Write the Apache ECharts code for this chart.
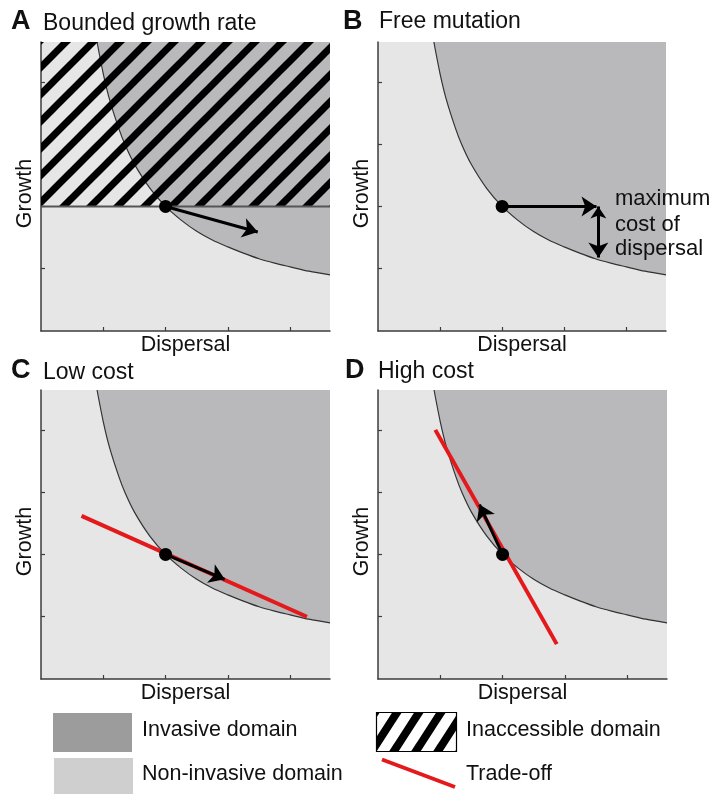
<!DOCTYPE html>
<html>
<head>
<meta charset="utf-8">
<script src="https://cdn.jsdelivr.net/npm/echarts@6/dist/echarts.min.js"></script>
<style>html,body{margin:0;padding:0;background:#fff;}#c{width:715px;height:794px;}</style>
</head>
<body>
<div id="c"></div>
<script>
// ---- data ----
const panelTitles = ['Bounded growth rate', 'Free mutation', 'Low cost', 'High cost'];
const panelLetters = ['A', 'B', 'C', 'D'];
const xAxisName = 'Dispersal';
const yAxisName = 'Growth';
const axisMax = 4.64;
const tickValues = [1, 2, 3, 4];
// invasion boundary (dispersal, growth)
const curveX = [0.9, 1.0, 1.1, 1.25, 1.35, 1.5, 1.75, 2.0, 2.25, 2.5, 2.75, 3.0, 3.25, 3.5, 3.75, 4.0, 4.3, 4.64];
const curveY = [4.64, 4.13, 3.72, 3.25, 2.99, 2.68, 2.29, 2.0, 1.78, 1.60, 1.46, 1.35, 1.25, 1.16, 1.09, 1.03, 0.96, 0.90];
const resident = [2, 2];
const growthBound = 2;                       // panel A
const arrowA = [[2, 2], [3.48, 1.59]];
const arrowBH = [[2, 2], [3.52, 2]];
const arrowBV = [[3.55, 2], [3.55, 1.18]];
const tradeoffLow = [[0.65, 2.62], [4.27, 1.0]];
const arrowC = [[2, 2], [2.95, 1.6]];
const tradeoffHigh = [[0.92, 4.0], [2.87, 0.56]];
const arrowD = [[2, 2], [1.63, 2.8]];
const costLabel = ['maximum', 'cost of', 'dispersal'];
const legendLabels = ['Invasive domain', 'Non-invasive domain', 'Inaccessible domain', 'Trade-off'];

// ---- styles ----
const FONT = 'Liberation Sans, Arial, Helvetica, sans-serif';
const DARK = '#b9b9bc', LIGHT = '#e6e6e6', RED = '#e3191c';

function hatch(w, h, lw) {
  const c = document.createElement('canvas');
  c.width = w; c.height = h;
  const g = c.getContext('2d');
  g.strokeStyle = '#000'; g.lineWidth = lw; g.lineCap = 'square';
  for (let k = -1; k <= 1; k++) {
    g.beginPath(); g.moveTo(k * w, h); g.lineTo(k * w + w, 0); g.stroke();
  }
  return c;
}
const hatchPanel = hatch(27, 27, 7);
const hatchLegend = hatch(22, 34, 8);

const grids = [
  {left: 41, top: 42, width: 289, height: 289},
  {left: 378, top: 42, width: 288, height: 289},
  {left: 41, top: 390, width: 289, height: 289},
  {left: 378, top: 390, width: 289, height: 289}
];

const chart = echarts.init(document.getElementById('c'), null, {renderer: 'canvas'});
const axisLine = {show: true, lineStyle: {color: '#3c3c3c', width: 1.5}};
const axisTick = {show: true, inside: true, length: 4, customValues: tickValues,
  lineStyle: {color: '#3c3c3c', width: 1.2}};

const xAxes = grids.map((g, i) => ({
  gridIndex: i, type: 'value', min: 0, max: axisMax, interval: 1,
  axisLine, axisTick, axisLabel: {show: false}, splitLine: {show: false},
  name: xAxisName, nameLocation: 'middle', nameGap: 3,
  nameTextStyle: {fontSize: 21.5, color: '#111', fontFamily: FONT}
}));
const yAxes = grids.map((g, i) => ({
  gridIndex: i, type: 'value', min: 0, max: axisMax, interval: 1,
  axisLine, axisTick, axisLabel: {show: false}, splitLine: {show: false},
  name: yAxisName, nameLocation: 'middle', nameGap: 5, nameRotate: 90,
  nameTextStyle: {fontSize: 21.5, color: '#111', fontFamily: FONT, padding: [0, 14, 0, 0]}
}));

const curveData = curveX.map((x, k) => [x, curveY[k]]);
const series = [];
const arrow = (i, coords, both) => ({
  type: 'lines', coordinateSystem: 'cartesian2d', xAxisIndex: i, yAxisIndex: i,
  data: [{coords}], symbol: both ? ['arrow', 'arrow'] : ['none', 'arrow'], symbolSize: [12, 15],
  lineStyle: {color: '#000', width: 3, opacity: 1}, silent: true, z: 8
});
for (let i = 0; i < 4; i++) {
  series.push({
    type: 'line', xAxisIndex: i, yAxisIndex: i, data: curveData,
    smooth: 0.3, showSymbol: false, silent: true,
    lineStyle: {color: '#333', width: 1.2},
    areaStyle: {origin: 'end', color: DARK, opacity: 1}, z: 2
  });
}
// Panel A: bound on growth, hatched inaccessible domain above it
series.push({
  type: 'line', xAxisIndex: 0, yAxisIndex: 0,
  data: [[0, growthBound], [axisMax, growthBound]], showSymbol: false, silent: true,
  lineStyle: {color: '#555', width: 2}, z: 5,
  areaStyle: {origin: 'end', color: {image: hatchPanel, repeat: 'repeat'}, opacity: 1}
});
series.push(arrow(0, arrowA));
series.push(arrow(1, arrowBH));
series.push(arrow(1, arrowBV, true));
series.push({type: 'line', xAxisIndex: 2, yAxisIndex: 2, data: tradeoffLow, showSymbol: false,
  silent: true, lineStyle: {color: RED, width: 4}, z: 6});
series.push(arrow(2, arrowC));
series.push({type: 'line', xAxisIndex: 3, yAxisIndex: 3, data: tradeoffHigh, showSymbol: false,
  silent: true, lineStyle: {color: RED, width: 4}, z: 6});
series.push(arrow(3, arrowD));
for (let i = 0; i < 4; i++) {
  series.push({type: 'scatter', xAxisIndex: i, yAxisIndex: i, data: [resident],
    symbolSize: 13, itemStyle: {color: '#000', opacity: 1}, silent: true, z: 10});
}

const txt = (x, y, text, size, weight) => ({
  type: 'text', x, y, silent: true, z: 100,
  style: {text, fontSize: size, fontWeight: weight || 'normal', fill: '#111',
    fontFamily: FONT, align: 'left', verticalAlign: 'middle'}
});
const graphic = [
  txt(11, 22, panelLetters[0], 27, 'bold'), txt(43, 24, panelTitles[0], 23),
  txt(343, 22, panelLetters[1], 27, 'bold'), txt(379, 22, panelTitles[1], 23),
  txt(11, 371, panelLetters[2], 27, 'bold'), txt(43, 373, panelTitles[2], 23),
  txt(345, 371, panelLetters[3], 27, 'bold'), txt(378, 372, panelTitles[3], 23),
  txt(615, 199, costLabel[0], 22), txt(615, 224.5, costLabel[1], 22), txt(615, 248.5, costLabel[2], 22),
  // legend
  {type: 'rect', z: 100, shape: {x: 53, y: 713, width: 79, height: 39}, style: {fill: '#9c9c9c'}, silent: true},
  {type: 'rect', z: 100, shape: {x: 54, y: 758, width: 79, height: 36}, style: {fill: '#cfcfcf'}, silent: true},
  {type: 'rect', z: 100, shape: {x: 376.5, y: 712.5, width: 80, height: 39},
    style: {fill: {image: hatchLegend, repeat: 'repeat'}, stroke: '#000', lineWidth: 1.2}, silent: true},
  {type: 'line', z: 100, shape: {x1: 382, y1: 759.5, x2: 455, y2: 787}, style: {stroke: RED, lineWidth: 4}, silent: true},
  txt(142, 730, legendLabels[0], 21.5), txt(142, 774, legendLabels[1], 21.5),
  txt(466, 730, legendLabels[2], 21.5), txt(466, 774, legendLabels[3], 21.5)
];

chart.setOption({
  animation: false,
  backgroundColor: '#fff',
  grid: grids.map(g => Object.assign({show: true, backgroundColor: LIGHT, borderWidth: 0, containLabel: false}, g)),
  xAxis: xAxes, yAxis: yAxes, series, graphic
});
</script>
</body>
</html>
